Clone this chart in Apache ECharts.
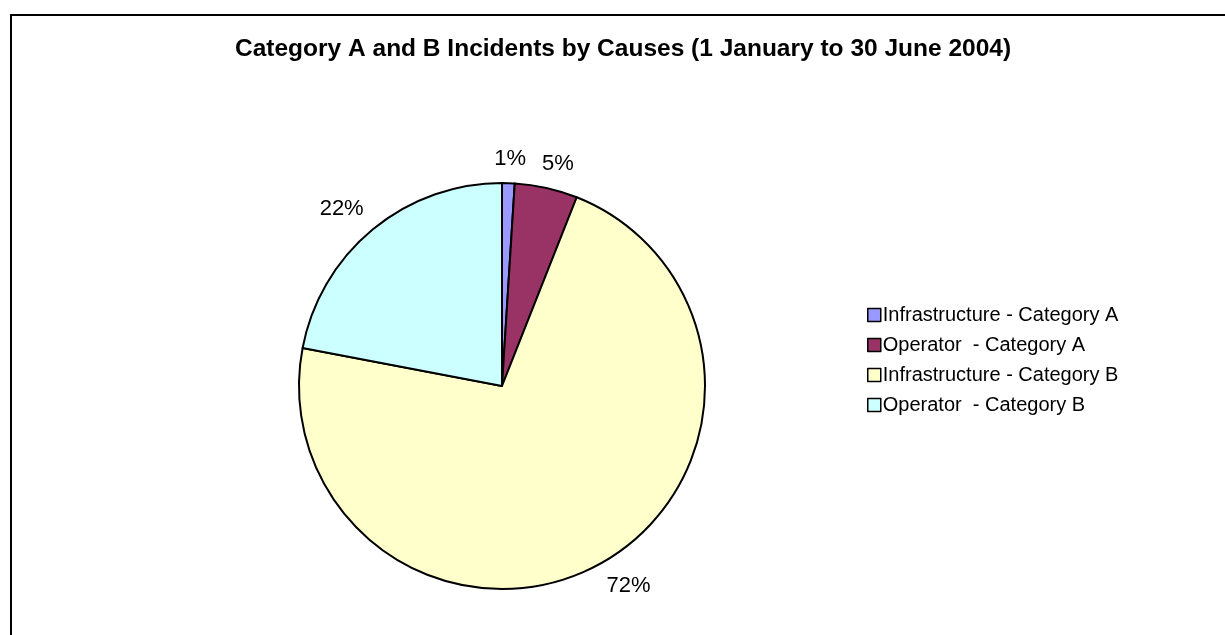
<!DOCTYPE html>
<html>
<head>
<meta charset="utf-8">
<script src="https://cdn.jsdelivr.net/npm/echarts@6/dist/echarts.min.js"></script>
<style>
  html, body { margin: 0; padding: 0; background: #fff; }
  #chart { width: 1225px; height: 635px; }
</style>
</head>
<body>
<div id="chart"></div>
<script>
// data
const causes = [
  'Infrastructure - Category A',
  'Operator  - Category A',
  'Infrastructure - Category B',
  'Operator  - Category B'
];
const shares = [1, 5, 72, 22];
const sliceColors = ['#9999FF', '#993366', '#FFFFCC', '#CCFFFF'];

const FONT = "'Liberation Sans', Arial, sans-serif";
const CX = 502, CY = 386, R = 203;
const LABEL_GAP = 14;

let chart = echarts.init(document.getElementById('chart'), null, { renderer: 'canvas' });

const total = shares.reduce(function (a, b) { return a + b; }, 0);

// Excel-like: anchor point on the mid-angle ray just off the rim,
// label box pushed outward from it (more sideways the more diagonal the ray)
function placeLabel(params) {
  let before = 0;
  for (let i = 0; i < params.dataIndex; i++) before += shares[i];
  const mid = (before + shares[params.dataIndex] / 2) / total * Math.PI * 2;
  const dx = Math.sin(mid), dy = -Math.cos(mid);
  const w = params.labelRect.width;
  const px = CX + dx * (R + LABEL_GAP);
  const py = CY + dy * (R + LABEL_GAP);
  const fx = Math.min(1, 2.5 * Math.abs(dx));
  return {
    x: px + Math.sign(dx) * fx * w / 2,
    y: py + Math.sign(dy) * 10,
    align: 'center',
    verticalAlign: 'middle'
  };
}

let option = {
  animation: false,
  backgroundColor: '#ffffff',
  graphic: [{
    type: 'rect',
    shape: { x: 11, y: 15, width: 1400, height: 800 },
    style: { fill: 'none', stroke: '#000', lineWidth: 2 },
    silent: true
  }],
  title: {
    text: 'Category A and B Incidents by Causes (1 January to 30 June 2004)',
    left: 235,
    top: 37,
    padding: 0,
    textStyle: {
      fontFamily: FONT,
      fontSize: 24.5,
      fontWeight: 'bold',
      color: '#000'
    }
  },
  legend: {
    orient: 'vertical',
    left: 867,
    top: 305,
    padding: 0,
    itemGap: 10,
    itemWidth: 13,
    itemHeight: 13,
    icon: 'rect',
    selectedMode: false,
    itemStyle: { borderColor: '#000', borderWidth: 1.5 },
    textStyle: {
      fontFamily: FONT,
      fontSize: 20,
      lineHeight: 20,
      color: '#000',
      padding: [0, 0, 0, -3]
    },
    data: causes
  },
  series: [{
    type: 'pie',
    center: [CX, CY],
    radius: R,
    startAngle: 90,
    clockwise: true,
    avoidLabelOverlap: false,
    color: sliceColors,
    itemStyle: { borderColor: '#000', borderWidth: 2 },
    label: {
      show: true,
      position: 'outside',
      fontFamily: FONT,
      fontSize: 22,
      color: '#000',
      formatter: function (p) { return Math.round(p.percent) + '%'; }
    },
    labelLine: { show: false, length: 10, length2: 0 },
    labelLayout: placeLabel,
    emphasis: { disabled: true },
    data: causes.map(function (name, i) {
      return { name: name, value: shares[i] };
    })
  }]
};

chart.setOption(option);
</script>
</body>
</html>
